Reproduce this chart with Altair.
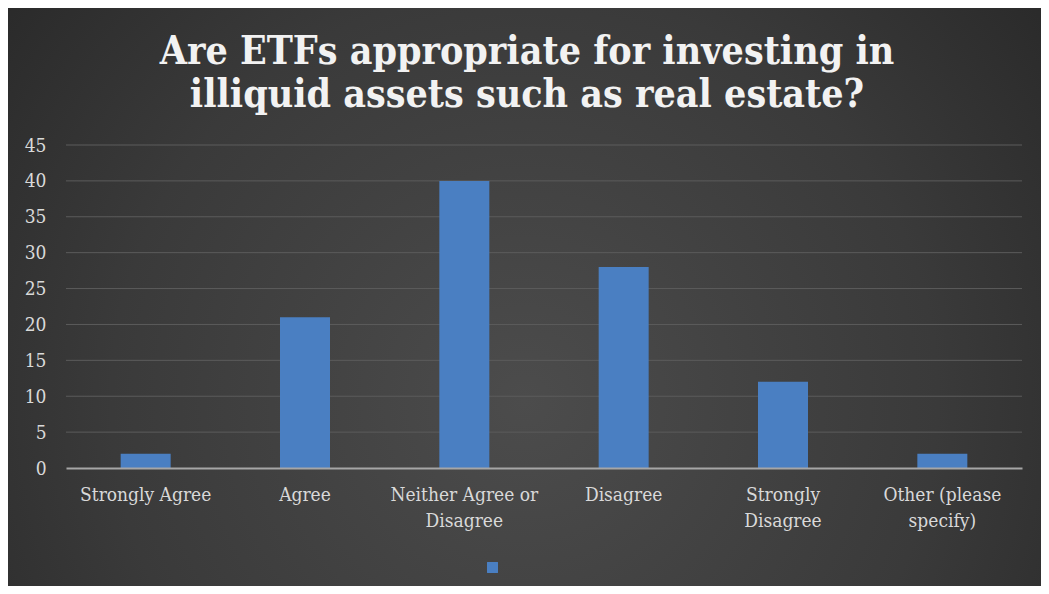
import altair as alt
import pandas as pd

categories = ["Strongly Agree", "Agree", "Neither Agree or Disagree", "Disagree",
              "Strongly Disagree", "Other (please specify)"]
label_lines = [["Strongly Agree"], ["Agree"], ["Neither Agree or", "Disagree"], ["Disagree"],
               ["Strongly", "Disagree"], ["Other (please", "specify)"]]
values = [2, 21, 40, 28, 12, 2]
series = [" "] * 6
y_ticks = [0, 5, 10, 15, 20, 25, 30, 35, 40, 45]
title_lines = ["Are ETFs appropriate for investing in", "illiquid assets such as real estate?"]

df = pd.DataFrame({"category": categories, "value": values, "series": series})
grid_df = pd.DataFrame({"value": y_ticks[1:]})

FONT = "DejaVu Serif Condensed, Liberation Serif, serif"
W, H = 956, 323
PL, PT, PR, PB = 58, 137, 19, 118

label_expr = " : ".join(
    f"datum.label == '{c}' ? {l!r}" for c, l in zip(categories, label_lines)
) + " : datum.label"

yscale = alt.Scale(domain=[0, 45], nice=False)
yaxis = alt.Axis(values=y_ticks, labelFont=FONT, labelFontSize=19,
                 labelColor="#d9d9d9", labelPadding=20, ticks=False,
                 domain=False, grid=False, zindex=1)

bg = alt.Chart(alt.Data(values=[{}])).mark_rect(
    color={"gradient": "radial",
           "stops": [{"offset": 0, "color": "#4c4c4c"},
                     {"offset": 0.5, "color": "#3a3a3a"},
                     {"offset": 1, "color": "#1f1f1f"}],
           "x1": 0.5, "y1": 0.6, "x2": 0.5, "y2": 0.6, "r1": 0, "r2": 0.8},
).encode(x=alt.value(-PL), x2=alt.value(W + PR), y=alt.value(-PT), y2=alt.value(H + PB))

grid = alt.Chart(grid_df).mark_rule(color="#5c5c5c", strokeWidth=1).encode(
    y=alt.Y("value:Q", scale=yscale, title=None, axis=yaxis)
)

title = alt.Chart(alt.Data(values=[{}])).mark_text(
    font=FONT, fontSize=39, fontWeight="bold", color="#f2f2f2", align="center",
    baseline="alphabetic", lineHeight=43,
).encode(x=alt.value(W / 2 - 17), y=alt.value(-81), text=alt.value(title_lines))

bars = alt.Chart(df).mark_bar(size=50).encode(
    x=alt.X("category:N", sort=categories, title=None,
            axis=alt.Axis(labelExpr=label_expr, labelAngle=0, labelFont=FONT,
                          labelFontSize=19, labelColor="#d9d9d9", labelPadding=17,
                          labelLineHeight=26, ticks=False, domainColor="#a6a6a6",
                          domainWidth=2, grid=False, labelBaseline="top", zindex=1)),
    y=alt.Y("value:Q", title=None, scale=yscale, axis=yaxis),
    color=alt.Color("series:N", scale=alt.Scale(range=["#4a7fc2"]),
                    legend=alt.Legend(orient="none", legendX=421, legendY=417, title=None,
                                      symbolType="square", symbolSize=120,
                                      symbolStrokeWidth=0, labelFontSize=1, zindex=1)),
)

chart = alt.layer(bg, grid, bars, title).properties(
    width=W, height=H,
    padding={"left": PL, "top": PT, "right": PR, "bottom": PB},
    autosize=alt.AutoSizeParams(type="none"),
    background="#2a2a2a",
).configure_view(stroke=None)

chart.save("out.html", embed_options={"renderer": "svg", "actions": False})
